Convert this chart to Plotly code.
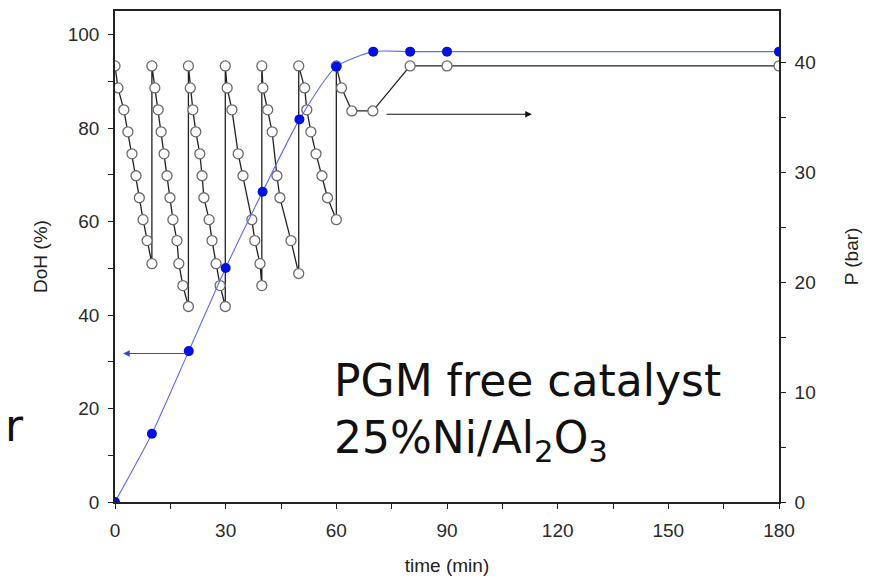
import plotly.graph_objects as go

# DoH data (left axis)
doh_time = [0, 10, 20, 30, 40, 50, 60, 70, 80, 90, 180]
doh_vals = [0, 14.6, 32.3, 50.1, 66.4, 81.9, 93.2, 96.4, 96.4, 96.4, 96.4]

# Pressure data (right axis)
p_time = [0, 0.8, 2.4, 3.5, 4.6, 5.7, 6.6, 7.6, 8.7, 10.0,
          10.0, 10.8, 11.7, 12.5, 13.3, 14.1, 14.9, 15.7, 16.8, 17.3, 18.4, 19.9,
          19.9, 20.4, 21.1, 21.9, 23.0, 23.6, 24.1, 25.5, 26.3, 27.4, 28.5, 29.9,
          29.9, 30.4, 31.7, 33.4, 34.7, 37.1, 37.9, 39.3, 39.8,
          39.8, 40.1, 41.4, 42.6, 43.9, 44.7, 47.7, 49.8,
          49.8, 51.4, 52.0, 53.1, 54.5, 56.1, 57.6, 60.0,
          60.0, 61.4, 64.2, 69.9, 80, 90, 180]
p_vals = [39.7, 37.7, 35.7, 33.7, 31.7, 29.7, 27.7, 25.7, 23.8, 21.7,
          39.7, 37.7, 35.7, 33.7, 31.7, 29.7, 27.7, 25.7, 23.8, 21.7, 19.7, 17.8,
          39.7, 37.7, 35.7, 33.7, 31.7, 29.7, 27.7, 25.7, 23.8, 21.7, 19.7, 17.8,
          39.7, 37.7, 35.7, 31.7, 29.7, 25.7, 23.8, 21.7, 19.7,
          39.7, 37.7, 35.7, 33.7, 29.7, 27.7, 23.8, 20.8,
          39.7, 37.7, 35.7, 33.7, 31.7, 29.7, 27.7, 25.7,
          39.7, 37.7, 35.6, 35.6, 39.7, 39.7, 39.7]

x_ticks = [0, 30, 60, 90, 120, 150, 180]
left_ticks = [0, 20, 40, 60, 80, 100]
right_ticks = [0, 10, 20, 30, 40]

# arrows (data coordinates): [head_x, tail_x, level]
doh_arrow = [2.2, 19.8, 31.8]
p_arrow = [113.0, 73.2, 35.3]

fig = go.Figure()

fig.add_trace(go.Scatter(
    x=p_time, y=p_vals, yaxis="y", mode="lines+markers",
    line=dict(color="#222222", width=1.3),
    marker=dict(symbol="circle", size=10, color="white",
                line=dict(color="#6a6a6a", width=1.3)),
    showlegend=False, hoverinfo="skip"))

fig.add_trace(go.Scatter(
    x=doh_time, y=doh_vals, yaxis="y2", mode="lines+markers",
    line=dict(color="#5c6cf0", width=1.1, shape="spline", smoothing=0.6),
    marker=dict(symbol="circle", size=10, color="#0010e0"),
    showlegend=False, hoverinfo="skip"))

axis_font = dict(family="Liberation Sans, Arial", size=19, color="#2a2a2a")
title_font = dict(family="Liberation Sans, Arial", size=19, color="#222222")

tick_common = dict(ticks="outside", ticklen=5, tickwidth=1.3, tickcolor="#222",
                   showline=True, linecolor="#222", linewidth=1.6,
                   showgrid=False, zeroline=False, tickfont=axis_font,
                   ticklabelstandoff=5)

fig.update_layout(
    width=876, height=581,
    margin=dict(l=107, r=105, t=1, b=87),
    paper_bgcolor="white", plot_bgcolor="white",
    xaxis=dict(range=[0, 180], tickvals=x_ticks, mirror=True,
               minor=dict(dtick=15, tick0=0, ticks="outside", ticklen=5,
                          tickwidth=1.3, tickcolor="#222"),
               title=dict(text="time (min)", font=title_font, standoff=19),
               **tick_common),
    yaxis=dict(range=[0, 44.7], side="right", tickvals=right_ticks,
               minor=dict(dtick=5, tick0=0, ticks="outside", ticklen=5,
                          tickwidth=1.3, tickcolor="#222"),
               title=dict(text="P (bar)", font=title_font, standoff=30),
               **tick_common),
    yaxis2=dict(range=[0, 105.1], side="left", overlaying="y", tickvals=left_ticks,
                minor=dict(dtick=10, tick0=0, ticks="outside", ticklen=5,
                           tickwidth=1.3, tickcolor="#222"),
                title=dict(text="DoH (%)", font=title_font, standoff=15),
                **tick_common),
)

fig.add_annotation(x=doh_arrow[0], y=doh_arrow[2], ax=doh_arrow[1], ay=doh_arrow[2],
                   xref="x", yref="y2", axref="x", ayref="y2", text="",
                   showarrow=True, arrowhead=2, arrowsize=1.2, arrowwidth=1.1,
                   arrowcolor="#3344ee")
fig.add_annotation(x=p_arrow[0], y=p_arrow[2], ax=p_arrow[1], ay=p_arrow[2],
                   xref="x", yref="y", axref="x", ayref="y", text="",
                   showarrow=True, arrowhead=2, arrowsize=1.2, arrowwidth=1.1,
                   arrowcolor="#111111")

fig.add_annotation(x=0.327, y=0.183, xref="paper", yref="paper",
                   xanchor="left", yanchor="middle", align="left", showarrow=False,
                   text="PGM free catalyst<br>25%Ni/Al<sub>2</sub>O<sub>3</sub>",
                   font=dict(family="DejaVu Sans", size=44, color="#111111"))
fig.add_annotation(x=-0.168, y=0.156, xref="paper", yref="paper",
                   xanchor="left", yanchor="middle", showarrow=False,
                   text="r", font=dict(family="DejaVu Sans", size=44, color="#111111"))

fig.write_html("out.html")
